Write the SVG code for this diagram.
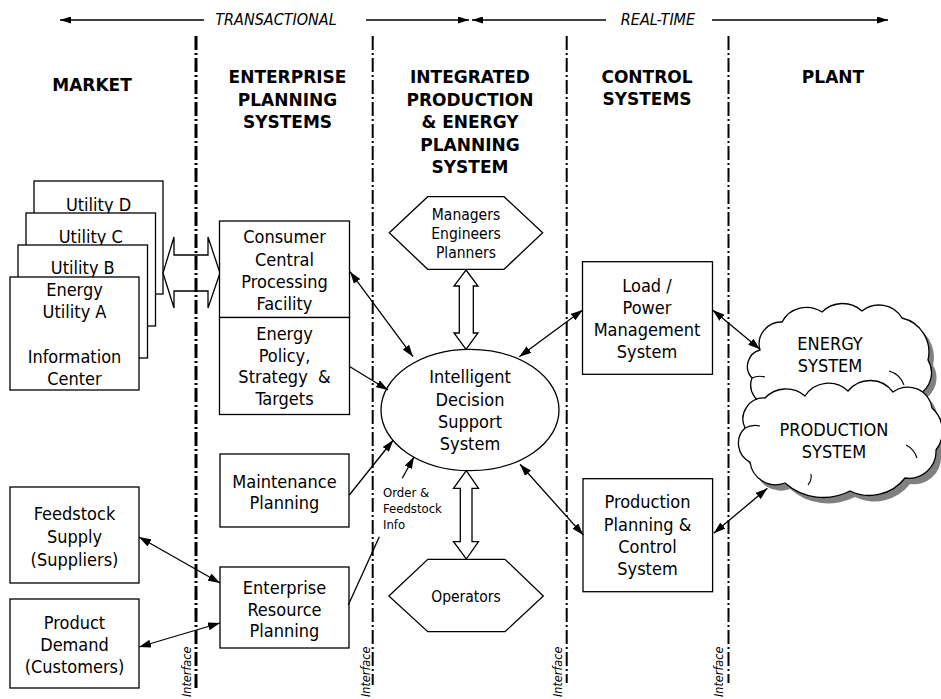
<svg xmlns="http://www.w3.org/2000/svg" width="941" height="699" viewBox="0 0 941 699">
<style>
.t{font-family:"DejaVu Sans Condensed","DejaVu Sans",sans-serif;font-stretch:condensed;font-size:18px;fill:#000;text-anchor:middle}
.h{font-family:"DejaVu Sans",sans-serif;font-weight:bold;font-size:17px;fill:#000;text-anchor:middle}
.it{font-family:"DejaVu Sans Condensed","DejaVu Sans",sans-serif;font-stretch:condensed;font-style:italic;font-size:16px;fill:#000;text-anchor:middle}
.if{font-family:"DejaVu Sans Condensed","DejaVu Sans",sans-serif;font-stretch:condensed;font-style:italic;font-size:12.5px;fill:#000}
.hx{font-family:"DejaVu Sans Condensed","DejaVu Sans",sans-serif;font-stretch:condensed;font-size:15.5px;fill:#000;text-anchor:middle}
.sm{font-family:"DejaVu Sans Condensed","DejaVu Sans",sans-serif;font-stretch:condensed;font-size:13px;fill:#000}
.box{fill:#fff;stroke:#000;stroke-width:1.3}
.sep{fill:none;stroke:#000;stroke-dasharray:14 3 2 3}
.c{fill:none;stroke:#000;stroke-width:1.3}
.cl{fill:#fff;stroke:#000;stroke-width:1.3}
.sh{fill:#808080;stroke:none}
.in{fill:none;stroke:#000;stroke-width:1.1}
</style>
<defs>
<marker id="ah" viewBox="0 0 12 8" refX="12" refY="4" markerWidth="12" markerHeight="8" markerUnits="userSpaceOnUse" orient="auto-start-reverse"><path d="M0,0 L12,4 L0,8 z" fill="#000"/></marker>
<marker id="ahs" viewBox="0 0 11 7" refX="11" refY="3.5" markerWidth="11" markerHeight="7" markerUnits="userSpaceOnUse" orient="auto-start-reverse"><path d="M0,0 L11,3.5 L0,7 z" fill="#000"/></marker>
</defs>

<g id="header">
<line x1="60" y1="20" x2="204" y2="20" class="c" marker-start="url(#ahs)"/>
<text x="276" y="25" class="it">TRANSACTIONAL</text>
<line x1="366" y1="20" x2="469" y2="20" class="c" marker-end="url(#ahs)"/>
<line x1="472" y1="20" x2="606" y2="20" class="c" marker-start="url(#ahs)"/>
<text x="658" y="25" class="it">REAL-TIME</text>
<line x1="712" y1="20" x2="888" y2="20" class="c" marker-end="url(#ahs)"/>
</g>

<g id="headings">
<text x="92" y="91" class="h">MARKET</text>
<text class="h"><tspan x="287.5" y="83">ENTERPRISE</tspan><tspan x="287.5" y="106">PLANNING</tspan><tspan x="287.5" y="128">SYSTEMS</tspan></text>
<text class="h"><tspan x="470" y="83">INTEGRATED</tspan><tspan x="470" y="106">PRODUCTION</tspan><tspan x="470" y="128">&amp; ENERGY</tspan><tspan x="470" y="151">PLANNING</tspan><tspan x="470" y="173">SYSTEM</tspan></text>
<text class="h"><tspan x="647" y="83">CONTROL</tspan><tspan x="647" y="105">SYSTEMS</tspan></text>
<text x="833" y="83" class="h">PLANT</text>
</g>

<g id="utilities">
<rect x="34" y="181" width="129" height="113" class="box"/>
<text x="98.5" y="211" class="t">Utility D</text>
<rect x="26" y="213" width="129.5" height="113" class="box"/>
<text x="90.8" y="243" class="t">Utility C</text>
<rect x="18" y="245" width="129.5" height="113" class="box"/>
<text x="82.8" y="274" class="t">Utility B</text>
<rect x="10" y="277" width="129" height="113" class="box"/>
<text class="t"><tspan x="74.5" y="296">Energy</tspan><tspan x="74.5" y="318">Utility A</tspan><tspan x="74.5" y="363">Information</tspan><tspan x="74.5" y="385">Center</tspan></text>
</g>

<g id="block-arrow-market">
<polygon points="163,273 174,237 174,255 208,255 208,237 220,273 208,308 208,291 174,291 174,308" class="box"/>
</g>

<g id="consumer">
<rect x="219.5" y="221" width="130" height="96.5" class="box"/>
<text class="t"><tspan x="284.5" y="243">Consumer</tspan><tspan x="284.5" y="265.7">Central</tspan><tspan x="284.5" y="287.5">Processing</tspan><tspan x="284.5" y="310">Facility</tspan></text>
</g>
<g id="policy">
<rect x="219.5" y="317.5" width="130" height="97" class="box"/>
<text class="t" style="white-space:pre"><tspan x="284.5" y="340">Energy</tspan><tspan x="284.5" y="361.7">Policy,</tspan><tspan x="284.5" y="383.3">Strategy  &amp;</tspan><tspan x="284.5" y="405">Targets</tspan></text>
</g>
<g id="maintenance">
<rect x="220" y="454" width="129" height="73" class="box"/>
<text class="t"><tspan x="284.5" y="488">Maintenance</tspan><tspan x="284.5" y="509">Planning</tspan></text>
</g>
<g id="erp">
<rect x="220" y="567" width="129" height="81" class="box"/>
<text class="t"><tspan x="284.5" y="594">Enterprise</tspan><tspan x="284.5" y="615.7">Resource</tspan><tspan x="284.5" y="637">Planning</tspan></text>
</g>
<g id="feedstock">
<rect x="10" y="487" width="129" height="96" class="box"/>
<text class="t"><tspan x="74.5" y="520">Feedstock</tspan><tspan x="74.5" y="543">Supply</tspan><tspan x="74.5" y="566">(Suppliers)</tspan></text>
</g>
<g id="product">
<rect x="10" y="599" width="129" height="89" class="box"/>
<text class="t"><tspan x="74.5" y="629">Product</tspan><tspan x="74.5" y="651">Demand</tspan><tspan x="74.5" y="673">(Customers)</tspan></text>
</g>

<g id="managers">
<polygon points="389.3,232.7 427.7,196.7 504,196.7 542.7,232.7 504,269.3 427.7,269.3" class="box"/>
<text class="hx"><tspan x="466" y="220">Managers</tspan><tspan x="466" y="239">Engineers</tspan><tspan x="466" y="258">Planners</tspan></text>
</g>
<g id="block-arrow-managers">
<polygon points="466,270 478,286 473.3,286 473.3,333 478,333 466,349.3 454,333 459.3,333 459.3,286 454,286" class="box"/>
</g>
<g id="idss">
<ellipse cx="470" cy="410" rx="89" ry="60.7" class="box"/>
<text class="t"><tspan x="470" y="383">Intelligent</tspan><tspan x="470" y="406">Decision</tspan><tspan x="470" y="428">Support</tspan><tspan x="470" y="450">System</tspan></text>
</g>
<g id="block-arrow-operators">
<polygon points="466.3,470.7 478.5,488.3 472,488.3 472,541.7 478.5,541.7 466.3,559 453.5,541.7 460.3,541.7 460.3,488.3 453.5,488.3" class="box"/>
</g>
<g id="operators">
<polygon points="388.9,596 427.8,559.3 505,559.3 543.3,596 505,631.7 427.8,631.7" class="box"/>
<text x="466" y="601.7" class="hx">Operators</text>
</g>

<g id="load">
<rect x="582.5" y="261.7" width="130" height="112.6" class="box"/>
<text class="t"><tspan x="647" y="291.7">Load /</tspan><tspan x="647" y="314">Power</tspan><tspan x="647" y="336">Management</tspan><tspan x="647" y="358">System</tspan></text>
</g>
<g id="production-planning">
<rect x="583" y="478.7" width="129.6" height="113" class="box"/>
<text class="t"><tspan x="647.5" y="508.3">Production</tspan><tspan x="647.5" y="530.5">Planning &amp;</tspan><tspan x="647.5" y="553">Control</tspan><tspan x="647.5" y="575">System</tspan></text>
</g>

<g id="energy-system">
<path class="sh" transform="translate(5,5)" d="M760,350 A22,22 0 0 1 782,322 A28,28 0 0 1 822,312 A29,29 0 0 1 862,311 A27,27 0 0 1 902,318 A35,35 0 0 1 928,360 A25,25 0 0 1 918,395 A78,78 0 0 1 850,408 A119,119 0 0 1 770,405 A20,20 0 0 1 752,378 A17,17 0 0 1 760,350 Z"/>
<path class="cl" d="M760,350 A22,22 0 0 1 782,322 A28,28 0 0 1 822,312 A29,29 0 0 1 862,311 A27,27 0 0 1 902,318 A35,35 0 0 1 928,360 A25,25 0 0 1 918,395 A78,78 0 0 1 850,408 A119,119 0 0 1 770,405 A20,20 0 0 1 752,378 A17,17 0 0 1 760,350 Z"/>
<path class="in" d="M889,371 Q900,374 904,385"/>
<path class="in" d="M752,378 Q758,375 765,377"/>
<text class="t"><tspan x="830" y="350">ENERGY</tspan><tspan x="830" y="372">SYSTEM</tspan></text>
</g>
<g id="production-system">
<path class="sh" transform="translate(5,6)" d="M745,428 A21,21 0 0 1 765,398 A29,29 0 0 1 805,396 A28,28 0 0 1 848,391 A28.5,28.5 0 0 1 893,392 A24.5,24.5 0 0 1 932,408 A31,31 0 0 1 936,450 A27,27 0 0 1 905,478 A45,45 0 0 1 850,491 A58,58 0 0 1 785,483 A26,26 0 0 1 750,462 A21,21 0 0 1 745,428 Z"/>
<path class="cl" d="M745,428 A21,21 0 0 1 765,398 A29,29 0 0 1 805,396 A28,28 0 0 1 848,391 A28.5,28.5 0 0 1 893,392 A24.5,24.5 0 0 1 932,408 A31,31 0 0 1 936,450 A27,27 0 0 1 905,478 A45,45 0 0 1 850,491 A58,58 0 0 1 785,483 A26,26 0 0 1 750,462 A21,21 0 0 1 745,428 Z"/>
<path class="in" d="M906,445 Q914,449 917,458"/>
<path class="in" d="M745,428 Q752,424 760,426"/>
<path class="in" d="M808,485 Q812,480 811,474"/>
<text class="t"><tspan x="834" y="436">PRODUCTION</tspan><tspan x="834" y="458">SYSTEM</tspan></text>
</g>

<g id="interfaces">
<line x1="196" y1="36" x2="196" y2="688" class="sep" stroke-width="3"/>
<line x1="372.7" y1="36" x2="372.7" y2="685" class="sep" stroke-width="2"/>
<line x1="566.7" y1="36" x2="566.7" y2="683" class="sep" stroke-width="2"/>
<line x1="728.5" y1="36" x2="728.5" y2="683" class="sep" stroke-width="2"/>
<text class="if" transform="translate(190.5,697) rotate(-90)">Interface</text>
<text class="if" transform="translate(369.5,697) rotate(-90)">Interface</text>
<text class="if" transform="translate(561.5,697) rotate(-90)">Interface</text>
<text class="if" transform="translate(722.5,697) rotate(-90)">Interface</text>
</g>

<g id="connectors">
<line x1="350" y1="271.7" x2="413" y2="356.7" class="c" marker-start="url(#ah)" marker-end="url(#ah)"/>
<line x1="350" y1="366.7" x2="388" y2="390" class="c" marker-end="url(#ah)"/>
<line x1="349.3" y1="495" x2="393.3" y2="440" class="c" marker-end="url(#ah)"/>
<line x1="348.3" y1="605" x2="379.3" y2="536.7" class="c"/>
<line x1="402.3" y1="478.3" x2="414" y2="456.7" class="c" marker-end="url(#ah)"/>
<line x1="139" y1="537" x2="220" y2="583" class="c" marker-start="url(#ah)" marker-end="url(#ah)"/>
<line x1="139" y1="647" x2="220" y2="623" class="c" marker-start="url(#ah)" marker-end="url(#ah)"/>
<line x1="519.3" y1="356.7" x2="582.7" y2="310" class="c" marker-start="url(#ah)" marker-end="url(#ah)"/>
<line x1="520" y1="464.3" x2="583.3" y2="535" class="c" marker-start="url(#ah)" marker-end="url(#ah)"/>
<line x1="712.7" y1="310" x2="760" y2="349.3" class="c" marker-start="url(#ah)" marker-end="url(#ah)"/>
<line x1="713.7" y1="533.3" x2="767.4" y2="488.3" class="c" marker-start="url(#ah)" marker-end="url(#ah)"/>
<text class="sm"><tspan x="383" y="496.5">Order &amp;</tspan><tspan x="383" y="512.7">Feedstock</tspan><tspan x="383" y="528.5">Info</tspan></text>
</g>
</svg>
